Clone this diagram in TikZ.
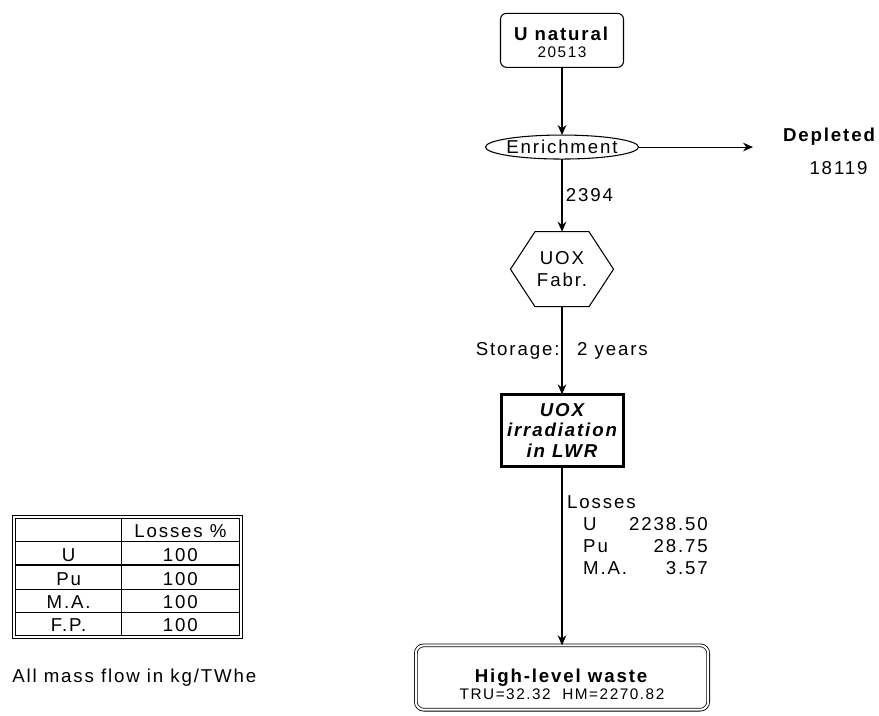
\documentclass[tikz,border=0pt]{standalone}
\usepackage{fontspec}
\setmainfont{Liberation Sans}[LetterSpace=10]
\usetikzlibrary{matrix,arrows.meta,shapes.geometric}

\tikzset{
  flow/.style={-{Stealth[length=7.5pt,width=6.5pt]}, line width=0.8pt},
  srcbox/.style={draw, rounded corners=4.5pt, line width=0.8pt, minimum width=92.25pt, minimum height=40.5pt, align=center},
  procell/.style={draw, ellipse, line width=0.8pt, minimum width=114.75pt, minimum height=18pt, inner sep=0pt},
  fabcell/.style={minimum width=40.5pt, minimum height=56.25pt, inner sep=0pt, align=center, font=\fontsize{14}{16.5}\selectfont},
  reactor/.style={draw, line width=2.25pt, minimum width=91.5pt, minimum height=54pt, align=center, font=\bfseries\itshape\fontsize{14}{15.4}\selectfont},
  wastebox/.style={draw, double, double distance=1.5pt, line width=0.6pt, rounded corners=6pt, minimum width=219.3pt, minimum height=48.3pt, align=center},
  tbl/.style={draw, double, double distance=1.5pt, line width=0.6pt, inner sep=1.4pt},
}
\newcommand{\rowstrut}{\rule[-2.4pt]{0pt}{16.7pt}}
\newcommand{\numfont}[1]{\fontsize{11.5}{#1}\selectfont}

\begin{document}
\fontsize{14}{16.8}\selectfont
\begin{tikzpicture}[x=0.75pt, y=-0.75pt]
  \useasboundingbox (0,0) rectangle (879,715);
  \matrix (m) [row sep=50pt, inner sep=0pt, anchor=north,
               nodes={anchor=center, outer sep=0pt}] at (562,12.5)
  {
   \node[srcbox] (unat) {\rule{0pt}{13pt}\textbf{U natural}\\[-4pt]\numfont{13.5}20513}; \\
   \node[procell, label={center:Enrichment}] (enr) {}; \\[4.1pt]
   \node[fabcell] (fab) {UOX\\Fabr.}; \\[14.6pt]
   \node[reactor] (irr) {UOX\\irradiation\\in LWR}; \\[81.75pt]
   \node[wastebox] (waste) {\rule{0pt}{20pt}\textbf{High-level waste}\\[-4pt]\numfont{12.75}TRU=32.32~~HM=2270.82}; \\
  };
  % hexagon round the fabrication cell
  \draw[line width=0.8pt] (fab.north west) -- (fab.north east)
    -- ([xshift=18.4pt]fab.east) -- (fab.south east)
    -- (fab.south west) -- ([xshift=-18.4pt]fab.west) -- cycle;

  \node[font=\bfseries] (depl) at (829,137) {Depleted};
  \node (deplval) at (838.5,168) {18119};
  \coordinate (deplx) at (753,0);
  \coordinate (deplend) at (enr -| deplx);

  \path[flow]
  (unat) edge (enr)
  (enr) edge (deplend)
        edge node [right, inner sep=2.5pt] {2394} (fab)
  (fab) edge node [left, inner sep=1.5pt] {Storage:}
             node [right, inner sep=2pt, xshift=9pt] {2 years} (irr)
  (irr) edge node [anchor=north west, pos=0.12, inner sep=3.5pt]
    {\fontsize{14}{16.5}\selectfont
     \begin{tabular}{@{}l@{\hspace{1.5pt}}r@{}}
      \multicolumn{2}{@{}l@{}}{Losses}\\
      \hspace*{12pt}U & 2238.50\\
      \hspace*{12pt}Pu & 28.75\\
      \hspace*{12pt}M.A. & 3.57
     \end{tabular}} (waste)
  ;

  % losses table
  \setlength{\arrayrulewidth}{0.75pt}
  \node[tbl] (tab) at (127.5,577)
    {\def\arraystretch{0}%
     \begin{tabular}{@{}c@{}|@{}c@{}}
      \makebox[79pt]{\rowstrut} & \makebox[87.9pt]{\rowstrut Losses \%}\\ \hline
      U\rowstrut & 100\\ \noalign{\hrule height 1.5pt}
      Pu\rowstrut & 100\\ \hline
      M.A.\rowstrut & 100\\ \hline
      F.P.\rowstrut & 100
     \end{tabular}};
  \node[anchor=west, inner sep=0pt] (unit) at (12,678) {All mass flow in kg/TWhe};
\end{tikzpicture}
\end{document}
